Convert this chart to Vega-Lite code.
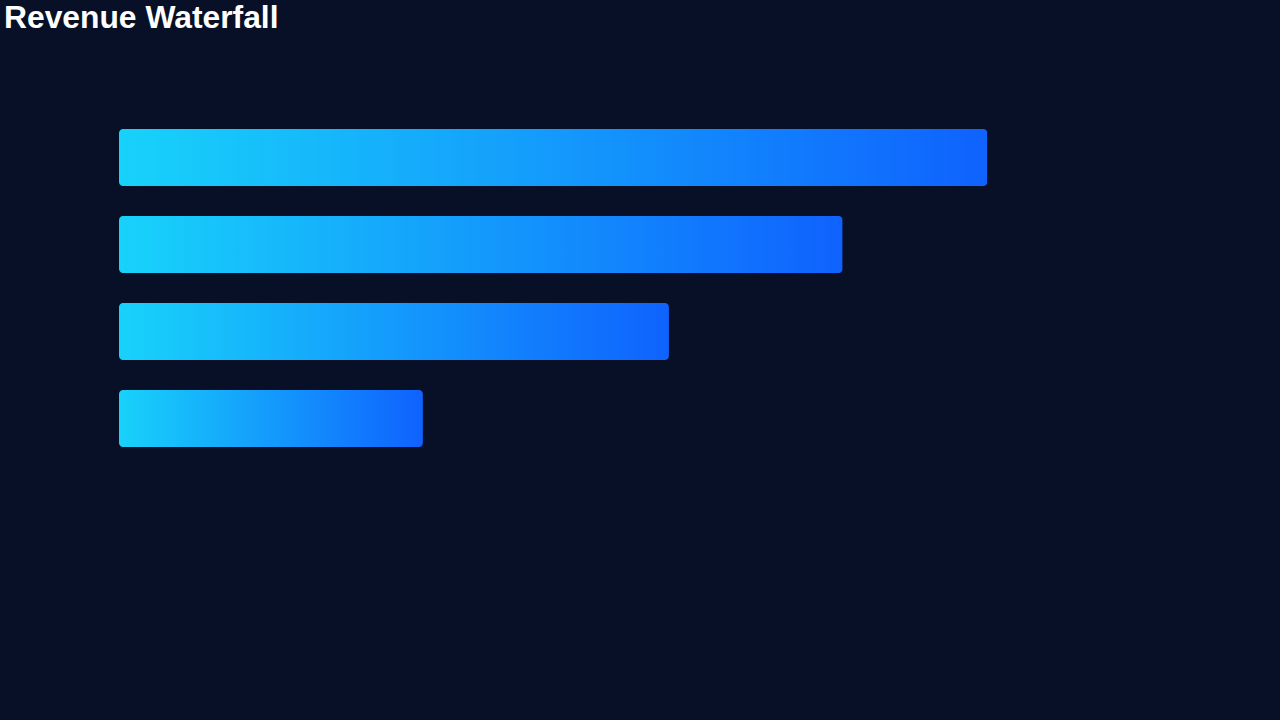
{
  "$schema": "https://vega.github.io/schema/vega-lite/v6.json",
  "autosize": {"type": "none"},
  "width": 1042,
  "height": 318,
  "padding": {"left": 119, "top": 129, "right": 119, "bottom": 273},
  "background": "#081028",
  "title": {
    "text": "Revenue Waterfall",
    "anchor": "start",
    "frame": "group",
    "orient": "top",
    "offset": 94,
    "dx": -115,
    "font": "Liberation Sans",
    "fontSize": 31.8,
    "fontWeight": "bold",
    "color": "#ffffff"
  },
  "data": {
    "values": [
      {"stage": "Gross Revenue", "value": 120, "order": 1},
      {"stage": "Net Revenue", "value": 100, "order": 2},
      {"stage": "Operating Income", "value": 76, "order": 3},
      {"stage": "Net Income", "value": 42, "order": 4}
    ]
  },
  "mark": {
    "type": "bar",
    "cornerRadius": 4,
    "color": {
      "gradient": "linear",
      "x1": 0, "y1": 0, "x2": 1, "y2": 0,
      "stops": [
        {"offset": 0, "color": "#18d2fa"},
        {"offset": 1, "color": "#0f62fe"}
      ]
    }
  },
  "encoding": {
    "y": {
      "field": "stage",
      "type": "nominal",
      "sort": {"field": "order"},
      "scale": {"paddingInner": 0.345, "paddingOuter": 0},
      "axis": null
    },
    "x": {
      "field": "value",
      "type": "quantitative",
      "scale": {"domain": [0, 144], "nice": false},
      "axis": null
    }
  },
  "config": {
    "view": {"stroke": null}
  }
}
